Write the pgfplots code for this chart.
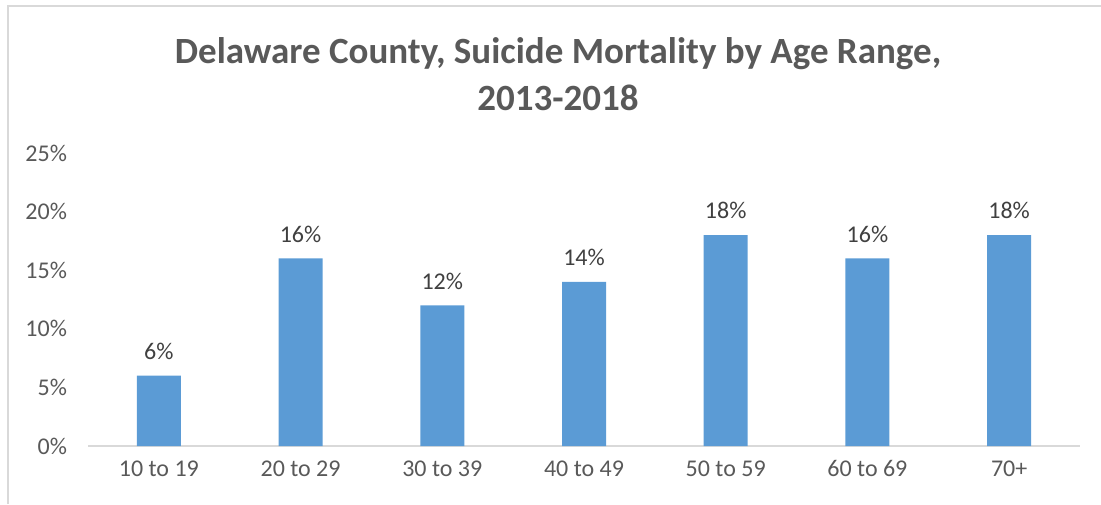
\documentclass[border=0pt]{standalone}
\usepackage{pgfplots}
\pgfplotsset{compat=1.18}
\usepackage{fontspec}
\setmainfont{Carlito}

\definecolor{barblue}{HTML}{5B9BD5}
\definecolor{txtgray}{HTML}{595959}
\definecolor{lblgray}{HTML}{404040}
\definecolor{linegray}{HTML}{D9D9D9}

\begin{document}
\begin{tikzpicture}
% 1 px of the reference = 0.5pt
\path[use as bounding box] (0,0) rectangle (550.5pt,252pt);
% chart frame (only left and top visible)
\draw[linegray, line width=1pt] (4pt,0) -- (4pt,249pt) -- (550.5pt,249pt);

\node[font=\fontsize{18.5}{23.5}\selectfont\bfseries, text=txtgray, align=center]
  at (279pt,215pt) {Delaware County, Suicide Mortality by Age Range,\\2013-2018};

\begin{axis}[
    at={(44pt,29pt)}, anchor=south west,
    scale only axis,
    width=496pt, height=146.5pt,
    ybar, bar width=22pt,
    xmin=-0.5, xmax=6.5,
    ymin=0, ymax=25,
    xtick=data,
    xticklabels={10 to 19, 20 to 29, 30 to 39, 40 to 49, 50 to 59, 60 to 69, 70+},
    ytick={0,5,10,15,20,25},
    yticklabel={\pgfmathprintnumber{\tick}\%},
    /pgf/number format/assume math mode=true,
    major tick length=0pt,
    axis lines*=left,
    x axis line style={draw=linegray, line width=1pt, -},
    y axis line style={draw=none},
    ticklabel style={font=\fontsize{12}{14}\selectfont, text=txtgray},
    yticklabel style={xshift=-7pt},
    xticklabel style={yshift=-4pt, text height=1.6ex, text depth=0.3ex},
    nodes near coords={\pgfmathprintnumber{\pgfplotspointmeta}\%},
    nodes near coords style={font=\fontsize{12}{14}\selectfont, text=lblgray, yshift=4.5pt},
]
\addplot[fill=barblue, draw=none] coordinates {(0,6) (1,16) (2,12) (3,14) (4,18) (5,16) (6,18)};
\end{axis}
\end{tikzpicture}
\end{document}
